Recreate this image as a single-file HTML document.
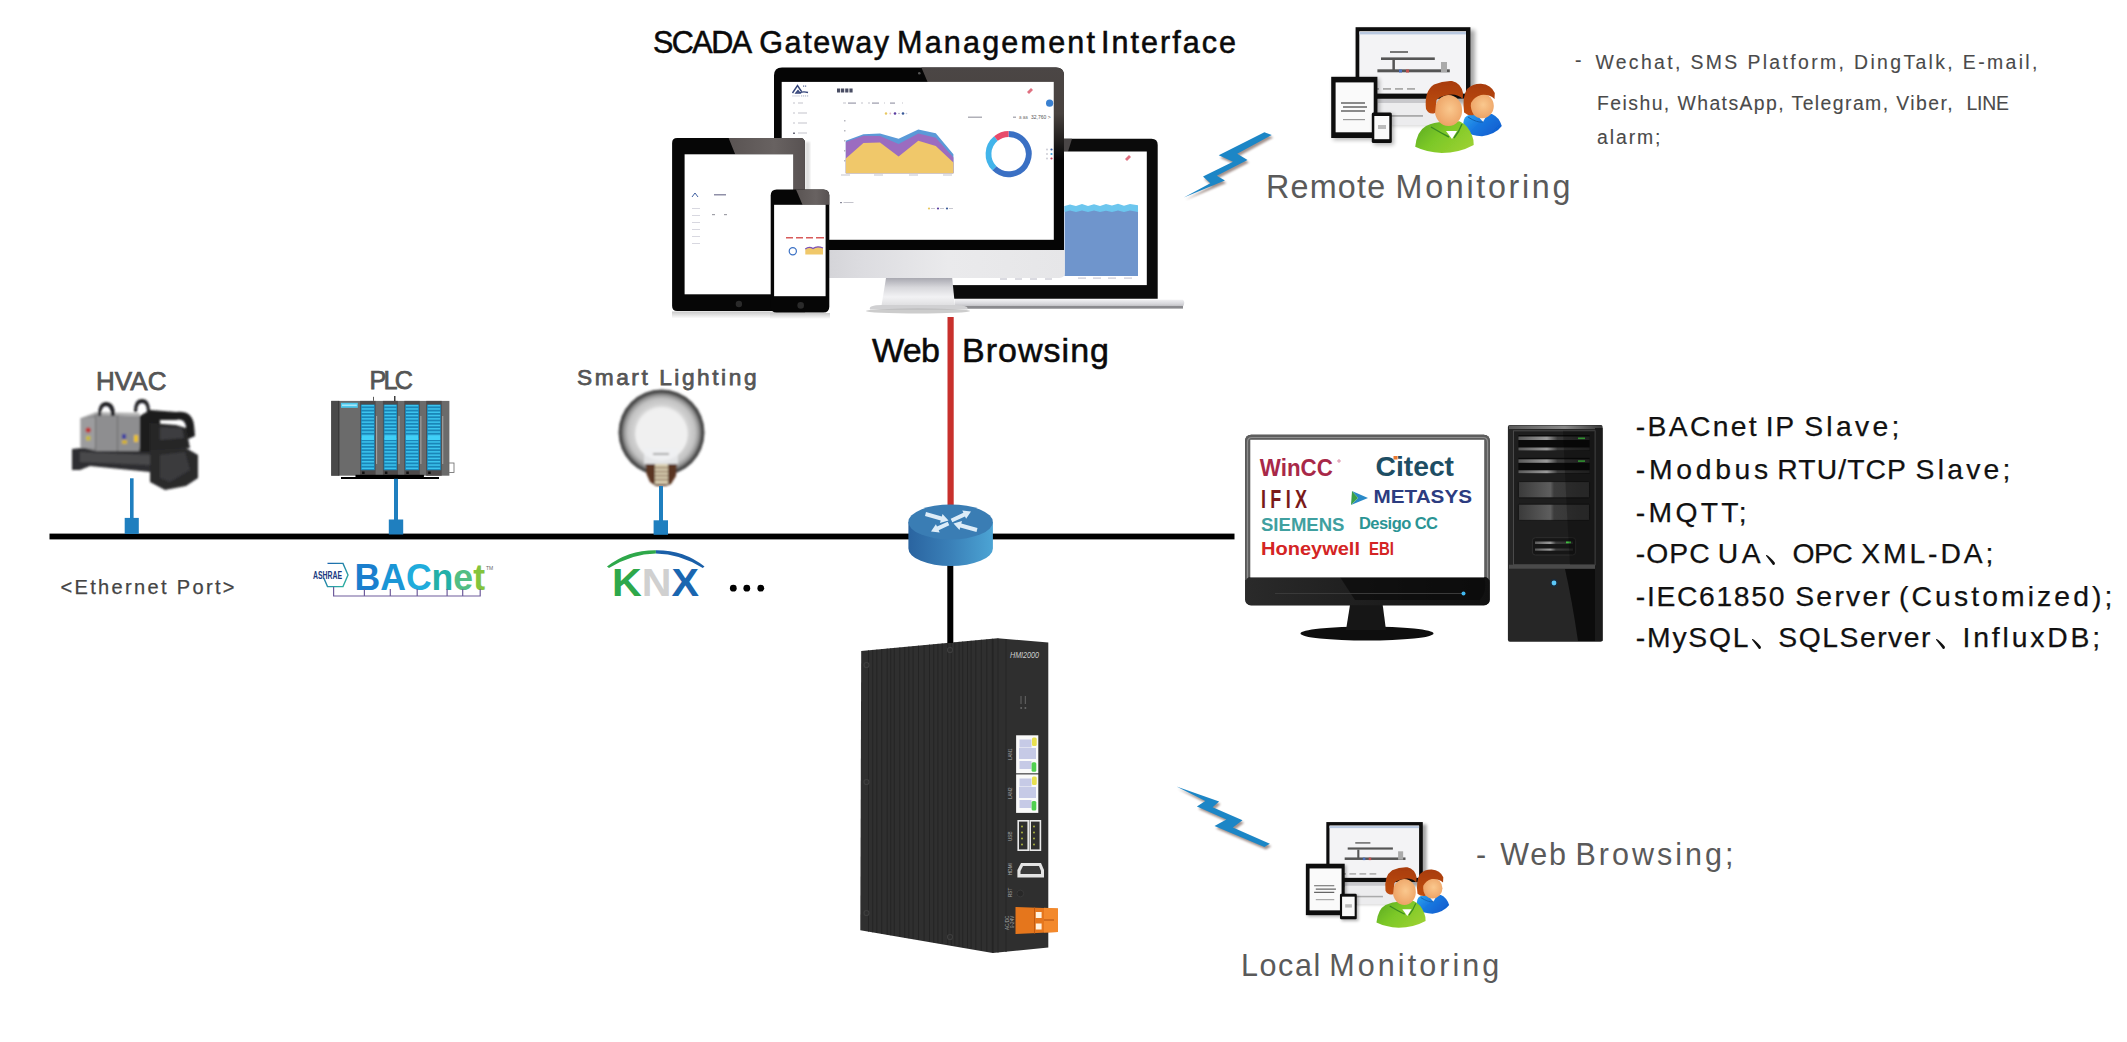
<!DOCTYPE html>
<html><head><meta charset="utf-8">
<style>
html,body{margin:0;padding:0;background:#fff;width:2127px;height:1042px;overflow:hidden}
svg{display:block}
text{font-family:"Liberation Sans",sans-serif}
</style></head><body>
<svg width="2127" height="1042" viewBox="0 0 2127 1042">
<defs>
<linearGradient id="silverH" x1="0" y1="0" x2="0" y2="1"><stop offset="0" stop-color="#f4f4f6"/><stop offset="0.5" stop-color="#d8d8dc"/><stop offset="1" stop-color="#a8a8ac"/></linearGradient>
<linearGradient id="neckG" x1="0" y1="0" x2="0" y2="1"><stop offset="0" stop-color="#a8a8b0"/><stop offset="0.35" stop-color="#d8d8dc"/><stop offset="0.7" stop-color="#f2f2f4"/><stop offset="1" stop-color="#e0e0e2"/></linearGradient>
<linearGradient id="chinG" x1="0" y1="0" x2="1" y2="0"><stop offset="0" stop-color="#c8c8cc"/><stop offset="0.3" stop-color="#dcdce0"/><stop offset="0.6" stop-color="#eaeaec"/><stop offset="1" stop-color="#e6e6e8"/></linearGradient>
<linearGradient id="glossT" x1="0" y1="0" x2="1" y2="0"><stop offset="0" stop-color="#5a5453"/><stop offset="0.6" stop-color="#686261"/><stop offset="1" stop-color="#585252"/></linearGradient>
<linearGradient id="reflG" x1="0" y1="0" x2="0" y2="1"><stop offset="0" stop-color="#c8c8c8"/><stop offset="1" stop-color="#ffffff"/></linearGradient>

<filter id="soft" x="-10%" y="-10%" width="120%" height="120%"><feGaussianBlur stdDeviation="0.8"/></filter>
<radialGradient id="bulbG" cx="0.5" cy="0.5" r="0.5"><stop offset="0" stop-color="#f2f2f2"/><stop offset="0.56" stop-color="#eeeeee"/><stop offset="0.64" stop-color="#d2d2d2"/><stop offset="0.78" stop-color="#c2c2c2"/><stop offset="0.87" stop-color="#969696"/><stop offset="0.94" stop-color="#4a4a4a"/><stop offset="1" stop-color="#404040"/></radialGradient>
<linearGradient id="bacHex" x1="0" y1="0" x2="1" y2="1"><stop offset="0" stop-color="#1a5fb0"/><stop offset="1" stop-color="#30b8a0"/></linearGradient>

<filter id="blur1" x="-20%" y="-20%" width="140%" height="140%"><feGaussianBlur stdDeviation="0.8"/></filter>
<filter id="blur2" x="-20%" y="-20%" width="140%" height="140%"><feGaussianBlur stdDeviation="2"/></filter>
<linearGradient id="chinDark" x1="0" y1="0" x2="1" y2="0"><stop offset="0" stop-color="#2a2a2a"/><stop offset="0.5" stop-color="#1e1e1e"/><stop offset="1" stop-color="#111"/></linearGradient>
<linearGradient id="greenShirt" x1="0" y1="0" x2="1" y2="0.6"><stop offset="0" stop-color="#58a820"/><stop offset="0.5" stop-color="#7cc828"/><stop offset="1" stop-color="#98d030"/></linearGradient>
<linearGradient id="blueShirt" x1="0" y1="0" x2="1" y2="0.6"><stop offset="0" stop-color="#30a8f0"/><stop offset="0.5" stop-color="#1878e0"/><stop offset="1" stop-color="#1060d0"/></linearGradient>
<radialGradient id="faceG" cx="0.55" cy="0.45" r="0.6"><stop offset="0" stop-color="#fac88e"/><stop offset="1" stop-color="#eca062"/></radialGradient>
<linearGradient id="hairG" x1="0" y1="0" x2="0" y2="1"><stop offset="0" stop-color="#a83c0a"/><stop offset="1" stop-color="#c04e12"/></linearGradient>
<linearGradient id="routerSide" x1="0" y1="0" x2="1" y2="0"><stop offset="0" stop-color="#2a64a0"/><stop offset="0.5" stop-color="#3a80b8"/><stop offset="1" stop-color="#4ca4d4"/></linearGradient>
<linearGradient id="towerTop" x1="0" y1="0" x2="1" y2="0"><stop offset="0" stop-color="#5a5a5a"/><stop offset="0.6" stop-color="#888"/><stop offset="1" stop-color="#3a3a3a"/></linearGradient>
<linearGradient id="bayStrip" x1="0" y1="0" x2="1" y2="0"><stop offset="0" stop-color="#5a5a5a"/><stop offset="0.4" stop-color="#9a9a9a"/><stop offset="0.55" stop-color="#3a3a3a"/><stop offset="1" stop-color="#2a2a2a"/></linearGradient>
<linearGradient id="bayGrey" x1="0" y1="0" x2="1" y2="0"><stop offset="0" stop-color="#3a3a3a"/><stop offset="0.45" stop-color="#5e5e5e"/><stop offset="0.5" stop-color="#3c3c3c"/><stop offset="1" stop-color="#333"/></linearGradient>
<linearGradient id="imacGloss" x1="0" y1="0" x2="0" y2="1"><stop offset="0" stop-color="#4b4645"/><stop offset="0.5" stop-color="#48423f"/><stop offset="1" stop-color="#050505"/></linearGradient>
<filter id="blur05" x="-5%" y="-5%" width="110%" height="110%"><feGaussianBlur stdDeviation="0.5"/></filter>
</defs>
<rect width="2127" height="1042" fill="#fff"/>


<!-- ===== SCADA DEVICES ===== -->
<g id="devices">
 <!-- laptop -->
 <path d="M955,298.8 L1183,299.7 Q1186,303 1182,308 L955,308.6 Z" fill="url(#silverH)"/>
 <rect x="955" y="306" width="228" height="2.6" fill="#8a8a8e"/>
 <path d="M945,138.8 L1151.5,138.8 Q1157.7,138.8 1157.7,145 L1157.7,298.8 L945,298.8 Z" fill="#0b0b0b"/>
 <path d="M1060,138.8 L1072,138.8 L1068,151.5 L1060,151.5 Z" fill="#4a4646"/>
 <rect x="950" y="151.5" width="196.8" height="133.6" fill="#fff"/>
 <g fill="#b8b8c4"><rect x="1000" y="278.5" width="7" height="1"/><rect x="1015" y="278.5" width="7" height="1"/><rect x="1030" y="278.5" width="7" height="1"/><rect x="1045" y="278.5" width="7" height="1"/></g>
 <rect x="1064.6" y="206" width="73.4" height="70" fill="#6f95cc"/>
 <path d="M1064.6,206 L1070,204.5 L1076,206 L1082,204 L1088,206 L1094,204.2 L1100,206 L1106,204 L1112,205.5 L1118,203.8 L1124,205.8 L1130,204 L1138,205.2 L1138,212 L1130,210.5 L1124,212 L1118,210.5 L1112,212 L1106,210.8 L1100,212 L1094,210.6 L1088,212 L1082,210.5 L1076,212 L1070,210.5 L1064.6,212 Z" fill="#6cc6ee"/>
 <g fill="#c9c9d6"><rect x="1078" y="277.5" width="8" height="1.2"/><rect x="1093" y="277.5" width="8" height="1.2"/><rect x="1108" y="277.5" width="8" height="1.2"/><rect x="1124" y="277.5" width="8" height="1.2"/></g>
 <path d="M1125,159 l4,-4 l2,2 l-4,4 z" fill="#e07080"/>

 <!-- iMac -->
 <path d="M870,309.5 Q868,305 882,305 L955,305 Q969,305 967.5,309.5 Z" fill="#d0d0d2"/>
 <ellipse cx="918" cy="311" rx="52" ry="2.5" fill="#9a9a9a" opacity="0.5"/>
 <path d="M886,277.9 L952.2,277.9 L954.9,305 L881.6,305 Z" fill="url(#neckG)"/>
 <path d="M774,250 L1064.8,250 L1064.8,272.5 Q1064.8,277.9 1059.4,277.9 L779.4,277.9 Q774,277.9 774,272.5 Z" fill="url(#chinG)"/>
 <path d="M774,75.4 Q774,67.4 782,67.4 L1056,67.4 Q1064,67.4 1064,75.4 L1064,250 L774,250 Z" fill="#050505"/>
 <path d="M921.4,67.4 L1056,67.4 Q1064,67.4 1064,75.4 L1064,160 L1053.8,160 L1053.8,81.9 L927.6,81.9 Z" fill="url(#imacGloss)"/>
 <circle cx="919.3" cy="73.2" r="1.3" fill="#555"/>
 <rect x="781.7" y="81.9" width="272.1" height="157.9" fill="#fff"/>
 <!-- screen contents -->
 <path d="M792.5,93 L797.5,85.5 L801.5,91.5 M799.5,93 Q803,91 808,92.5 M796,93 L798,90.5 L800,93 Z" stroke="#34447a" stroke-width="1.4" fill="none"/>
 <g fill="#5a6a9a"><rect x="803" y="85.5" width="1.2" height="1.2"/><rect x="805" y="85.5" width="1.2" height="1.2"/></g>
 <g fill="#9aa0b8"><rect x="792.5" y="95.5" width="1" height="0.9"/><rect x="794.5" y="95.5" width="1" height="0.9"/><rect x="796.5" y="95.5" width="1" height="0.9"/><rect x="798.5" y="95.5" width="1" height="0.9"/><rect x="801" y="95.5" width="1.2" height="0.9"/><rect x="803" y="95.5" width="1.2" height="0.9"/><rect x="805" y="95.5" width="1.2" height="0.9"/><rect x="807" y="95.5" width="1.2" height="0.9"/></g>
 <g fill="#4a4e64"><rect x="837" y="88.5" width="3.2" height="4"/><rect x="841" y="88.5" width="3.2" height="4"/><rect x="845.2" y="88.5" width="3.2" height="4"/><rect x="849.4" y="88.5" width="3.2" height="4"/></g>
 <g fill="#c4c4cc">
  <rect x="793" y="102.5" width="2" height="1"/><rect x="798" y="102.5" width="5" height="1"/>
  <rect x="793" y="112.5" width="2" height="1"/><rect x="798" y="112.5" width="9" height="1"/>
  <rect x="793" y="122.5" width="2" height="1"/><rect x="798" y="122.5" width="9" height="1"/>
  <rect x="793" y="132.5" width="2" height="1.5" fill="#6a6a7a"/><rect x="798" y="132.5" width="9" height="1"/>
  <rect x="843" y="102.5" width="3" height="1"/><rect x="848" y="102.5" width="8" height="1.2" fill="#9a9aaa"/><rect x="861" y="102.5" width="2" height="1"/><rect x="868" y="102.5" width="2" height="1"/><rect x="872" y="102.5" width="7" height="1.2" fill="#9a9aaa"/><rect x="884" y="102.5" width="1" height="1"/><rect x="890" y="102.5" width="5" height="1.2" fill="#9a9aaa"/><rect x="902" y="102.5" width="1" height="1"/>
  <rect x="841" y="174.5" width="9" height="1"/><rect x="874" y="174.5" width="9" height="1"/><rect x="909" y="174.5" width="9" height="1"/><rect x="943" y="174.5" width="9" height="1"/>
  <rect x="840" y="202" width="2" height="1.2" fill="#8a8a9a"/><rect x="843.5" y="202" width="10" height="1"/>
 </g>
 <g><circle cx="886" cy="113.5" r="1.2" fill="#e8c860"/><circle cx="890.3" cy="113.5" r="0.9" fill="#e0b8c8"/><circle cx="895" cy="113.5" r="1.3" fill="#5a3ca0"/><circle cx="899" cy="113.5" r="0.7" fill="#9a9ab0"/><circle cx="903" cy="113.5" r="1.3" fill="#3a5a98"/><circle cx="906.5" cy="113.5" r="0.8" fill="#c0c8e0"/>
 <circle cx="929" cy="208.5" r="1.1" fill="#e8c860"/><rect x="931" y="208" width="4" height="1" fill="#c8c8d0"/><circle cx="938" cy="208.5" r="1.1" fill="#5a3ca0"/><rect x="940" y="208" width="4" height="1" fill="#c8c8d0"/><circle cx="947" cy="208.5" r="1.1" fill="#3a5a98"/><rect x="949" y="208" width="4" height="1" fill="#c8c8d0"/></g>
 <path d="M845.8,173.3 L845.8,140.8 L863.4,134.2 L880,133.6 L898.6,138.8 L918.3,129.5 L935.8,133.2 L953.4,154.3 L953.4,173.3 Z" fill="#5b9ad8"/>
 <path d="M845.8,173.3 L845.8,141.9 L863.4,135.7 L880,136.1 L898.6,144 L918.3,133.6 L935.8,137.7 L953.4,157.4 L953.4,173.3 Z" fill="#9b6cc0"/>
 <path d="M845.8,173.3 L845.8,158.4 L863.4,142.9 L880,142.5 L898.6,156.4 L918.3,140.8 L935.8,146 L953.4,162.6 L953.4,173.3 Z" fill="#f0c86a"/>
 <path d="M1008.60,134.00 A20.1,20.1 0 1 1 994.39,168.31" fill="none" stroke="#3a70c4" stroke-width="5.8"/><path d="M994.39,168.31 A20.1,20.1 0 0 1 995.95,138.48" fill="none" stroke="#42b4ea" stroke-width="5.8"/><path d="M995.95,138.48 A20.1,20.1 0 0 1 1008.60,134.00" fill="none" stroke="#e84a6a" stroke-width="5.8"/>
 <g fill="#b0b0b8"><rect x="968" y="116.5" width="14" height="1.5"/><rect x="1013" y="116.5" width="3" height="1.5"/></g>
 <text x="1019" y="118.6" font-size="4.5" fill="#777">a aa </text><text x="1031" y="118.8" font-size="5" fill="#555" font-family="Liberation Serif">32,760 &gt;</text>
 <g><circle cx="1047" cy="149.5" r="0.9" fill="#c8c8d0"/><circle cx="1051.5" cy="149.5" r="1.1" fill="#3a60a8"/><circle cx="1047" cy="154" r="0.9" fill="#c8c8d0"/><circle cx="1051.5" cy="154" r="1.1" fill="#42a0d8"/><circle cx="1047" cy="158.5" r="0.9" fill="#c8c8d0"/><circle cx="1051.5" cy="158.5" r="1.1" fill="#d04060"/></g>
 <g fill="#b8b8c0"><rect x="844" y="120" width="1.5" height="1.5"/><rect x="844" y="130" width="1.5" height="1.5"/><rect x="844" y="140" width="1.5" height="1.5"/><rect x="844" y="150" width="1.5" height="1.5"/><rect x="844" y="160" width="1.5" height="1.5"/></g>
<circle cx="1049.6" cy="103.2" r="3.6" fill="#3a80d0"/>
 <path d="M1027,92 l4,-4 l2,2 l-4,4 z" fill="#e07080"/>

 <!-- tablet -->
 <path d="M672.1,142.9 Q672.1,137.9 677.1,137.9 L800,137.9 Q805,137.9 805,142.9 L805,306.1 Q805,311.1 800,311.1 L677.1,311.1 Q672.1,311.1 672.1,306.1 Z" fill="#060606"/>
 <path d="M728.6,137.9 L800,137.9 Q805,137.9 805,142.9 L805,306 L793.2,306 L793.2,154.3 L735.2,154.3 Z" fill="url(#glossT)"/>
 <rect x="805" y="142" width="5" height="165" fill="#000" opacity="0.12" filter="url(#blur1)"/>
 <rect x="684.6" y="154.3" width="108.6" height="140" fill="#fff"/>
 <circle cx="738.9" cy="304" r="3.2" fill="#2a2a2a"/>
 <g fill="#d8d8e0"><rect x="714" y="194" width="12" height="1.5" fill="#9090a8"/><rect x="692" y="208" width="8" height="1"/><rect x="692" y="215" width="8" height="1"/><rect x="692" y="222" width="8" height="1"/><rect x="692" y="229" width="8" height="1"/><rect x="692" y="236" width="8" height="1"/><rect x="692" y="243" width="8" height="1"/><rect x="712" y="214" width="3" height="1.2" fill="#a0a0a8"/><rect x="724" y="214" width="3" height="1.2" fill="#a0a0a8"/></g>
 <path d="M692,197 l3,-4 l3,4" stroke="#4060a0" stroke-width="1" fill="none"/>
 <rect x="672" y="311.5" width="133" height="7" fill="url(#reflG)"/>

 <!-- phone -->
 <path d="M770.7,195.5 Q770.7,189.5 776.7,189.5 L823.3,189.5 Q829.3,189.5 829.3,195.5 L829.3,306.4 Q829.3,312.4 823.3,312.4 L776.7,312.4 Q770.7,312.4 770.7,306.4 Z" fill="#060606"/>
 <path d="M796,189.5 L823.3,189.5 Q829.3,189.5 829.3,195.5 L829.3,204.8 L802.5,204.8 Z" fill="url(#glossT)"/>
 <rect x="774.1" y="204.8" width="51.5" height="91.4" fill="#fff"/>
 <circle cx="800.7" cy="305.4" r="3.3" fill="#2a2a2a"/>
 <g fill="#d85a5a"><rect x="786" y="237" width="7" height="1.5"/><rect x="796" y="237" width="7" height="1.5"/><rect x="806" y="237" width="7" height="1.5"/><rect x="816" y="237" width="8" height="1.5"/></g>
 <circle cx="792.8" cy="251.3" r="3.6" fill="none" stroke="#3a70c4" stroke-width="1.2"/>
 <path d="M805.3,254.5 L805.3,249 Q809,246 813,248.5 Q817,245.5 823,248 L823,254.5 Z" fill="#f0c86a"/>
 <path d="M805.3,249 Q809,246 813,248.5 Q817,245.5 823,248" stroke="#7a50b8" stroke-width="1.3" fill="none"/>
 <rect x="770" y="313" width="60" height="6" fill="url(#reflG)"/>
</g>


<!-- ===== HMI DEVICE ===== -->
<defs><clipPath id="hmiSide"><path d="M861.2,651.1 L997.5,638.2 L997.5,953.1 L860.3,930.3 Z"/></clipPath></defs>
<g id="hmi">
 <path d="M861.2,651.1 L997.5,638.2 L1048.3,642.5 L1048.3,947.4 L992.7,953.1 L860.3,930.3 Z" fill="#2f2f2f"/>
 <g clip-path="url(#hmiSide)" opacity="0.9"><rect x="868.0" y="630" width="0.9" height="330" fill="#232323"/><rect x="872.2" y="630" width="0.9" height="330" fill="#232323"/><rect x="876.4" y="630" width="0.9" height="330" fill="#232323"/><rect x="881.2" y="630" width="0.9" height="330" fill="#232323"/><rect x="886.7" y="630" width="0.9" height="330" fill="#232323"/><rect x="890.3" y="630" width="0.9" height="330" fill="#232323"/><rect x="893.9" y="630" width="0.9" height="330" fill="#232323"/><rect x="899.4" y="630" width="0.9" height="330" fill="#232323"/><rect x="904.2" y="630" width="0.9" height="330" fill="#232323"/><rect x="908.4" y="630" width="0.9" height="330" fill="#232323"/><rect x="912.6" y="630" width="0.9" height="330" fill="#232323"/><rect x="918.1" y="630" width="0.9" height="330" fill="#232323"/><rect x="923.6" y="630" width="0.9" height="330" fill="#232323"/><rect x="929.1" y="630" width="0.9" height="330" fill="#232323"/><rect x="933.3" y="630" width="0.9" height="330" fill="#232323"/><rect x="937.5" y="630" width="0.9" height="330" fill="#232323"/><rect x="941.7" y="630" width="0.9" height="330" fill="#232323"/><rect x="947.2" y="630" width="0.9" height="330" fill="#232323"/><rect x="950.8" y="630" width="0.9" height="330" fill="#232323"/><rect x="954.4" y="630" width="0.9" height="330" fill="#232323"/><rect x="958.6" y="630" width="0.9" height="330" fill="#232323"/><rect x="962.2" y="630" width="0.9" height="330" fill="#232323"/><rect x="967.0" y="630" width="0.9" height="330" fill="#232323"/><rect x="970.6" y="630" width="0.9" height="330" fill="#232323"/><rect x="975.4" y="630" width="0.9" height="330" fill="#232323"/><rect x="980.9" y="630" width="0.9" height="330" fill="#232323"/><rect x="986.4" y="630" width="0.9" height="330" fill="#232323"/><rect x="991.9" y="630" width="0.9" height="330" fill="#232323"/></g>
 <rect x="992.5" y="639" width="1" height="314" fill="#222"/>
 <rect x="997.5" y="638.5" width="1" height="314" fill="#262626"/>
 <rect x="1005.5" y="639" width="1" height="313" fill="#262626"/>
 <g fill="none" stroke="#3e3e3e" stroke-width="1.2"><circle cx="866.5" cy="665" r="2.5"/><circle cx="866.5" cy="782" r="2.5"/><circle cx="866.5" cy="913" r="2.5"/><circle cx="950" cy="650" r="2.5"/><circle cx="950" cy="937" r="2.5"/></g>
 <text x="1010" y="658" font-size="9.5" font-style="italic" fill="#cfcfcf" textLength="29" lengthAdjust="spacingAndGlyphs">HMI2000</text>
 <g fill="#666"><rect x="1020.5" y="696" width="1" height="8"/><rect x="1024.8" y="696" width="1" height="8"/><circle cx="1021.2" cy="708" r="1"/><circle cx="1025.4" cy="708" r="1"/></g>
 <!-- LAN -->
 <rect x="1016.1" y="735.3" width="22.2" height="38" fill="#fafafa"/>
 <rect x="1016.1" y="774.4" width="22.2" height="38.5" fill="#fafafa"/>
 <g fill="#c6cae6">
  <rect x="1019.5" y="739.5" width="12" height="8"/><rect x="1019" y="748" width="17" height="11"/><rect x="1019.5" y="761" width="12" height="8"/>
  <rect x="1019.5" y="778.5" width="12" height="8"/><rect x="1019" y="787" width="17" height="11"/><rect x="1019.5" y="800" width="12" height="8"/>
 </g>
 <g fill="#e8e050"><rect x="1032" y="737.4" width="4.7" height="8.5" rx="1.5"/><rect x="1032" y="776.5" width="4.7" height="8.5" rx="1.5"/></g>
 <g fill="#50d050"><rect x="1031.6" y="762.2" width="4.7" height="9.5" rx="1.5"/><rect x="1031.6" y="801" width="4.7" height="9.5" rx="1.5"/></g>
 <g fill="#a8a8a8" font-size="4.6">
 <text transform="translate(1012,760) rotate(-90)">LAN1</text>
 <text transform="translate(1012,799) rotate(-90)">LAN2</text>
 <text transform="translate(1012,841) rotate(-90)">USB</text>
 <text transform="translate(1012,875) rotate(-90)">HDMI</text>
 <text transform="translate(1012,897) rotate(-90)">RST</text>
 <text transform="translate(1009,930) rotate(-90)">AC/DC</text>
 <text transform="translate(1013.5,928) rotate(-90)">9-24V</text>
</g>
 <!-- USB -->
 <g fill="none" stroke="#e8e8e8" stroke-width="1.6"><rect x="1018.2" y="820.8" width="10" height="29.4"/><rect x="1030.2" y="820.8" width="10.2" height="29.4"/></g>
 <g fill="#b8c040"><circle cx="1022" cy="826.5" r="0.9"/><circle cx="1022" cy="832.5" r="0.9"/><circle cx="1022" cy="838.5" r="0.9"/><circle cx="1022" cy="844.5" r="0.9"/><circle cx="1034" cy="826.5" r="0.9"/><circle cx="1034" cy="832.5" r="0.9"/><circle cx="1034" cy="838.5" r="0.9"/><circle cx="1034" cy="844.5" r="0.9"/></g>
 <!-- HDMI -->
 <path d="M1021,863 L1041,863 L1044,870 L1044,877.6 L1017.4,877.6 L1017.4,870 Z" fill="#e4e4e4"/>
 <path d="M1023,866 L1039,866 L1041,871 L1041,874 L1020.5,874 L1020.5,871 Z" fill="#3a3a3a"/>
 <circle cx="1020.3" cy="893.5" r="3.4" fill="#282828" stroke="#3c3c3c" stroke-width="0.8"/>
 <!-- terminal -->
 <path d="M1015.5,907 L1058,908.6 L1058,932 L1015.5,934 Z" fill="#e5761c"/>
 <path d="M1044,907.8 L1058,908.6 L1058,932 L1044,932.6 Z" fill="#f3892c"/>
 <rect x="1035.8" y="912" width="5.8" height="6" fill="#fff2e0"/>
 <rect x="1035.8" y="923.5" width="5.8" height="6" fill="#fff2e0"/>
 <rect x="1034" y="907.5" width="1" height="26" fill="#c05a10"/>
 <rect x="1044" y="919.5" width="10" height="1" fill="#b05010"/>
</g>

<g id="plc"><rect x="331.2" y="400.9" width="118.2" height="74.8" fill="#6b6b6b"/><rect x="331.2" y="400.9" width="7.5" height="74.8" fill="#4a4a4a"/><rect x="338.5" y="400.9" width="0.8" height="74.8" fill="#222"/><rect x="341" y="402.8" width="16.8" height="5" fill="#4cc8ec"/><rect x="342" y="404.5" width="14.8" height="1.5" fill="#a8e8fa"/><rect x="360.1" y="400.9" width="15.5" height="74.8" fill="#4e4a4a"/><rect x="360.90000000000003" y="404.6" width="13.9" height="65.6" fill="#1a86b8"/><rect x="361.7" y="404.90" width="12.3" height="1.5" fill="#3cc4ee"/><rect x="361.7" y="408.20" width="12.3" height="1.5" fill="#3cc4ee"/><rect x="361.7" y="411.50" width="12.3" height="1.5" fill="#3cc4ee"/><rect x="361.7" y="414.80" width="12.3" height="1.5" fill="#3cc4ee"/><rect x="361.7" y="418.10" width="12.3" height="1.5" fill="#3cc4ee"/><rect x="361.7" y="421.40" width="12.3" height="1.5" fill="#3cc4ee"/><rect x="361.7" y="424.70" width="12.3" height="1.5" fill="#3cc4ee"/><rect x="361.7" y="428.00" width="12.3" height="1.5" fill="#3cc4ee"/><rect x="361.7" y="431.30" width="12.3" height="1.5" fill="#3cc4ee"/><rect x="361.7" y="434.60" width="12.3" height="1.5" fill="#3cc4ee"/><rect x="361.7" y="437.90" width="12.3" height="1.5" fill="#3cc4ee"/><rect x="361.7" y="441.20" width="12.3" height="1.5" fill="#3cc4ee"/><rect x="361.7" y="444.50" width="12.3" height="1.5" fill="#3cc4ee"/><rect x="361.7" y="447.80" width="12.3" height="1.5" fill="#3cc4ee"/><rect x="361.7" y="451.10" width="12.3" height="1.5" fill="#3cc4ee"/><rect x="361.7" y="454.40" width="12.3" height="1.5" fill="#3cc4ee"/><rect x="361.7" y="457.70" width="12.3" height="1.5" fill="#3cc4ee"/><rect x="361.7" y="461.00" width="12.3" height="1.5" fill="#3cc4ee"/><rect x="361.7" y="464.30" width="12.3" height="1.5" fill="#3cc4ee"/><rect x="361.7" y="467.60" width="12.3" height="1.5" fill="#3cc4ee"/><rect x="361.7" y="436" width="12.3" height="4" fill="#40d0f8"/><rect x="362.1" y="471.5" width="2.5" height="2.5" fill="#111"/><rect x="382.9" y="400.9" width="15.0" height="74.8" fill="#4e4a4a"/><rect x="383.7" y="404.6" width="13.4" height="65.6" fill="#1a86b8"/><rect x="384.5" y="404.90" width="11.8" height="1.5" fill="#3cc4ee"/><rect x="384.5" y="408.20" width="11.8" height="1.5" fill="#3cc4ee"/><rect x="384.5" y="411.50" width="11.8" height="1.5" fill="#3cc4ee"/><rect x="384.5" y="414.80" width="11.8" height="1.5" fill="#3cc4ee"/><rect x="384.5" y="418.10" width="11.8" height="1.5" fill="#3cc4ee"/><rect x="384.5" y="421.40" width="11.8" height="1.5" fill="#3cc4ee"/><rect x="384.5" y="424.70" width="11.8" height="1.5" fill="#3cc4ee"/><rect x="384.5" y="428.00" width="11.8" height="1.5" fill="#3cc4ee"/><rect x="384.5" y="431.30" width="11.8" height="1.5" fill="#3cc4ee"/><rect x="384.5" y="434.60" width="11.8" height="1.5" fill="#3cc4ee"/><rect x="384.5" y="437.90" width="11.8" height="1.5" fill="#3cc4ee"/><rect x="384.5" y="441.20" width="11.8" height="1.5" fill="#3cc4ee"/><rect x="384.5" y="444.50" width="11.8" height="1.5" fill="#3cc4ee"/><rect x="384.5" y="447.80" width="11.8" height="1.5" fill="#3cc4ee"/><rect x="384.5" y="451.10" width="11.8" height="1.5" fill="#3cc4ee"/><rect x="384.5" y="454.40" width="11.8" height="1.5" fill="#3cc4ee"/><rect x="384.5" y="457.70" width="11.8" height="1.5" fill="#3cc4ee"/><rect x="384.5" y="461.00" width="11.8" height="1.5" fill="#3cc4ee"/><rect x="384.5" y="464.30" width="11.8" height="1.5" fill="#3cc4ee"/><rect x="384.5" y="467.60" width="11.8" height="1.5" fill="#3cc4ee"/><rect x="384.5" y="436" width="11.8" height="4" fill="#40d0f8"/><rect x="384.9" y="471.5" width="2.5" height="2.5" fill="#111"/><rect x="404.3" y="400.9" width="15.5" height="74.8" fill="#4e4a4a"/><rect x="405.1" y="404.6" width="13.9" height="65.6" fill="#1a86b8"/><rect x="405.9" y="404.90" width="12.3" height="1.5" fill="#3cc4ee"/><rect x="405.9" y="408.20" width="12.3" height="1.5" fill="#3cc4ee"/><rect x="405.9" y="411.50" width="12.3" height="1.5" fill="#3cc4ee"/><rect x="405.9" y="414.80" width="12.3" height="1.5" fill="#3cc4ee"/><rect x="405.9" y="418.10" width="12.3" height="1.5" fill="#3cc4ee"/><rect x="405.9" y="421.40" width="12.3" height="1.5" fill="#3cc4ee"/><rect x="405.9" y="424.70" width="12.3" height="1.5" fill="#3cc4ee"/><rect x="405.9" y="428.00" width="12.3" height="1.5" fill="#3cc4ee"/><rect x="405.9" y="431.30" width="12.3" height="1.5" fill="#3cc4ee"/><rect x="405.9" y="434.60" width="12.3" height="1.5" fill="#3cc4ee"/><rect x="405.9" y="437.90" width="12.3" height="1.5" fill="#3cc4ee"/><rect x="405.9" y="441.20" width="12.3" height="1.5" fill="#3cc4ee"/><rect x="405.9" y="444.50" width="12.3" height="1.5" fill="#3cc4ee"/><rect x="405.9" y="447.80" width="12.3" height="1.5" fill="#3cc4ee"/><rect x="405.9" y="451.10" width="12.3" height="1.5" fill="#3cc4ee"/><rect x="405.9" y="454.40" width="12.3" height="1.5" fill="#3cc4ee"/><rect x="405.9" y="457.70" width="12.3" height="1.5" fill="#3cc4ee"/><rect x="405.9" y="461.00" width="12.3" height="1.5" fill="#3cc4ee"/><rect x="405.9" y="464.30" width="12.3" height="1.5" fill="#3cc4ee"/><rect x="405.9" y="467.60" width="12.3" height="1.5" fill="#3cc4ee"/><rect x="405.9" y="436" width="12.3" height="4" fill="#40d0f8"/><rect x="406.3" y="471.5" width="2.5" height="2.5" fill="#111"/><rect x="426.2" y="400.9" width="15.5" height="74.8" fill="#4e4a4a"/><rect x="427.0" y="404.6" width="13.9" height="65.6" fill="#1a86b8"/><rect x="427.8" y="404.90" width="12.3" height="1.5" fill="#3cc4ee"/><rect x="427.8" y="408.20" width="12.3" height="1.5" fill="#3cc4ee"/><rect x="427.8" y="411.50" width="12.3" height="1.5" fill="#3cc4ee"/><rect x="427.8" y="414.80" width="12.3" height="1.5" fill="#3cc4ee"/><rect x="427.8" y="418.10" width="12.3" height="1.5" fill="#3cc4ee"/><rect x="427.8" y="421.40" width="12.3" height="1.5" fill="#3cc4ee"/><rect x="427.8" y="424.70" width="12.3" height="1.5" fill="#3cc4ee"/><rect x="427.8" y="428.00" width="12.3" height="1.5" fill="#3cc4ee"/><rect x="427.8" y="431.30" width="12.3" height="1.5" fill="#3cc4ee"/><rect x="427.8" y="434.60" width="12.3" height="1.5" fill="#3cc4ee"/><rect x="427.8" y="437.90" width="12.3" height="1.5" fill="#3cc4ee"/><rect x="427.8" y="441.20" width="12.3" height="1.5" fill="#3cc4ee"/><rect x="427.8" y="444.50" width="12.3" height="1.5" fill="#3cc4ee"/><rect x="427.8" y="447.80" width="12.3" height="1.5" fill="#3cc4ee"/><rect x="427.8" y="451.10" width="12.3" height="1.5" fill="#3cc4ee"/><rect x="427.8" y="454.40" width="12.3" height="1.5" fill="#3cc4ee"/><rect x="427.8" y="457.70" width="12.3" height="1.5" fill="#3cc4ee"/><rect x="427.8" y="461.00" width="12.3" height="1.5" fill="#3cc4ee"/><rect x="427.8" y="464.30" width="12.3" height="1.5" fill="#3cc4ee"/><rect x="427.8" y="467.60" width="12.3" height="1.5" fill="#3cc4ee"/><rect x="427.8" y="436" width="12.3" height="4" fill="#40d0f8"/><rect x="428.2" y="471.5" width="2.5" height="2.5" fill="#111"/><rect x="376.3" y="416" width="0.8" height="48" fill="#b8b8b8"/><rect x="398.6" y="416" width="0.8" height="48" fill="#b8b8b8"/><rect x="420.5" y="416" width="0.8" height="48" fill="#b8b8b8"/><rect x="442.4" y="416" width="0.8" height="48" fill="#b8b8b8"/><rect x="449" y="463" width="5" height="9.5" fill="#fff" stroke="#666" stroke-width="0.8"/><rect x="355.5" y="474.8" width="68.4" height="2.8" fill="#000"/><rect x="341" y="477" width="98" height="2" fill="#000"/><rect x="373" y="396.8" width="0.8" height="4" fill="#333"/><rect x="394.2" y="396" width="1.2" height="5" fill="#111"/></g>
<g id="hvac" filter="url(#soft)">
 <path d="M72,449 L90,447 L150,449 L156,455 L156,468 L150,472 L90,466 L80,470 L72,470 Z" fill="#2e2e30"/>
 <path d="M80,452 L150,455 L152,465 L80,462 Z" fill="#4a4a4c"/>
 <path d="M80.6,418 L96,414 L139.6,416 L139.6,451 L96,451 L80.6,447 Z" fill="#8e8e90"/>
 <rect x="80.6" y="418" width="15" height="30" fill="#9c9c9e"/>
 <rect x="95" y="414" width="1" height="37" fill="#6a6a6a"/><rect x="117" y="415" width="1" height="36" fill="#6a6a6a"/>
 <path d="M80.6,418 L96,412 L139.6,413 L139.6,416 L96,414 Z" fill="#b0b0b0"/>
 <path d="M98,416 Q98,402 106,402 Q115,402 115,416 L111,416 Q111,406 106,406 Q101,406 101,416 Z" fill="#1e1e20"/>
 <path d="M134,412 Q134,399 142,399 Q150,399 150,412 L147,412 Q147,403 142,403 Q137,403 137,412 Z" fill="#1e1e20"/>
 <path d="M139.6,416 L150,410 L176,412 Q192,410 194,425 L195,436 L186,440 L186,426 Q184,418 176,420 L160,420 L160,452 L139.6,452 Z" fill="#1a1a1c"/>
 <path d="M150,423 L176,425 L186,428 L190,448 L150,452 Z" fill="#262628"/><path d="M160,427 L182,428 L184,438 L160,440 Z" fill="#3c3c40"/>
 <path d="M150,450 L186,448 L198,455 L198,478 L186,486 L165,490 L150,482 Z" fill="#2a2a2c"/>
 <path d="M160,455 L185,452 L190,470 L170,482 L160,478 Z" fill="#3a3a3e"/>
 <circle cx="88.2" cy="430" r="2.6" fill="#c03030"/>
 <rect x="86" y="436" width="4.5" height="4.5" fill="#c8b840"/>
 <rect x="134" y="435" width="4" height="7" fill="#e8c020"/>
 <rect x="122" y="434" width="4" height="5" fill="#4040a0"/><rect x="122" y="440" width="5" height="4" fill="#d0b030"/>
</g>

<g id="bulb" filter="url(#soft)">
 <circle cx="661.5" cy="432.5" r="43" fill="url(#bulbG)"/>
 <circle cx="661.5" cy="434.5" r="26" fill="#f0f0f0"/>
 <rect x="644" y="448" width="34" height="16" fill="#eef0f2" opacity="0.7"/>
 <rect x="653" y="453" width="16" height="2" fill="#777" opacity="0.6"/>
 <path d="M645.7,464 L676.8,464 L676,476 L671,484 L666,486 L656,486 L650,482 L646.5,474 Z" fill="#5a3520"/>
 <rect x="655" y="464" width="13" height="20" fill="#d8cdb0"/>
 <g fill="#7a5a40"><rect x="654" y="467" width="15" height="1.2"/><rect x="654" y="471" width="15" height="1.2"/><rect x="654" y="475" width="15" height="1.2"/><rect x="654" y="479" width="15" height="1.2"/></g>
</g>

<g id="bacnet">
 <path d="M327.5,563.4 L343,563.4 L348,575 L343,586.6 L327.5,586.6 L323.8,578" fill="none" stroke="url(#bacHex)" stroke-width="1.4"/>
 <text x="313" y="579" font-size="10.5" font-weight="bold" fill="#1a3a80" textLength="29" lengthAdjust="spacingAndGlyphs">ASHRAE</text>
 <text x="354.5" y="589.8" font-size="37" font-weight="bold" textLength="130.5" lengthAdjust="spacingAndGlyphs"><tspan fill="#1a7fce">B</tspan><tspan fill="#1a96d6">A</tspan><tspan fill="#20acdc">C</tspan><tspan fill="#22b0a8">n</tspan><tspan fill="#52be84">e</tspan><tspan fill="#84c43c">t</tspan></text>
 <text x="486" y="569.5" font-size="5" fill="#666">TM</text>
 <g stroke="#6e5c9c" stroke-width="1.2" fill="none"><path d="M333.6,587 L333.6,596 L480.2,596 L480.2,589"/><path d="M364.4,589 V596 M390.3,589 V596 M417.2,589 V596 M447.1,589 V596 M462.7,589 V596"/></g>
</g>
<g id="knx">
 <path d="M607,566.5 Q628,550 655.9,550.2 L655.9,553.4 Q632,553.6 609,568 Z" fill="#2ea84a"/>
 <path d="M655.9,550.2 Q684,550 704.5,566.5 L702.8,568 Q680,553.6 655.9,553.4 Z" fill="#1a5fa8"/>
 <text x="612" y="595.9" font-size="38.5" font-weight="bold" textLength="87" lengthAdjust="spacingAndGlyphs"><tspan fill="#2ea84a">K</tspan><tspan fill="#d0d0d0">N</tspan><tspan fill="#1a66b0">X</tspan></text>
</g>
<g fill="#000"><circle cx="733.3" cy="588.2" r="3.4"/><circle cx="746.8" cy="588.2" r="3.4"/><circle cx="760.8" cy="588.2" r="3.4"/></g>


<g id="pcmon">
 <ellipse cx="1367" cy="633.5" rx="66.5" ry="7" fill="#0e0e0e"/>
 <path d="M1350,605 L1382.7,605 L1386,630 L1346,630 Z" fill="#161616"/>
 <rect x="1245.1" y="434.8" width="244.7" height="170.8" rx="6" fill="#1a1a1a"/>
 <path d="M1245.1,580 L1245.1,440.8 Q1245.1,434.8 1251.1,434.8 L1483.8,434.8 Q1489.8,434.8 1489.8,440.8 L1489.8,580 Z" fill="#5e5e5e"/>
 <path d="M1247.5,580 L1247.5,442 Q1247.5,437.5 1252,437.5 L1483,437.5 Q1487.5,437.5 1487.5,442 L1487.5,580 Z" fill="none" stroke="#8e8e8e" stroke-width="1.2"/>
 <rect x="1245.6" y="577" width="244" height="28" rx="5" fill="url(#chinDark)"/>
 <path d="M1340,577 L1484,577 Q1488,590 1480,600 L1355,600 Z" fill="#0a0a0a" opacity="0.7"/>
 <rect x="1275" y="593" width="190" height="1" fill="#3a3a3a"/>
 <circle cx="1463.5" cy="593.5" r="2" fill="#40b8f0"/>
 <rect x="1250.3" y="439.8" width="233.9" height="137.6" fill="#fff"/>
 
 <text x="1259.8" y="476" font-size="23" font-weight="bold" fill="#a82848" textLength="73" lengthAdjust="spacingAndGlyphs">WinCC</text>
 <circle cx="1339" cy="461" r="1.2" fill="none" stroke="#c0406a" stroke-width="0.6"/>
 <text x="1375.5" y="476" font-size="27" font-weight="bold" fill="#1e4e64" textLength="78.5" lengthAdjust="spacingAndGlyphs">Citect</text>
 <rect x="1393.5" y="456" width="4" height="3.5" fill="#e87830"/>
 <text transform="translate(1261,507.5) scale(0.72,1)" x="0" y="0" font-size="25" fill="#7a1a1a" textLength="64" lengthAdjust="spacing" font-weight="bold">IFIX</text>
 <path d="M1352,491 L1368,498 L1351,505 L1358,498 Z" fill="#2a8ac8"/>
 <path d="M1352,491 L1358,498 L1351,505 Z" fill="#3aa048"/>
 <text x="1373.5" y="503.3" font-size="17.5" font-weight="bold" fill="#2c3c80" textLength="98.5" lengthAdjust="spacingAndGlyphs">METASYS</text>
 <text x="1261" y="531" font-size="19" font-weight="bold" fill="#40a0a0" textLength="83.5" lengthAdjust="spacingAndGlyphs">SIEMENS</text>
 <text x="1359" y="529" font-size="16.5" font-weight="bold" fill="#2a9494" textLength="79" lengthAdjust="spacing" font-family="Liberation Serif">Desigo CC</text>
 <text x="1261" y="554.5" font-size="18.5" font-weight="bold" fill="#d42424" textLength="99" lengthAdjust="spacingAndGlyphs">Honeywell</text>
 <text x="1369" y="554.8" font-size="17.5" font-weight="bold" fill="#d42424" textLength="25" lengthAdjust="spacingAndGlyphs" font-family="Liberation Serif">EBI</text>
</g>
<g id="tower">
 <rect x="1507.9" y="425.1" width="94.7" height="216.6" rx="2" fill="#262626"/>
 <rect x="1509" y="425.5" width="93" height="3.5" fill="url(#towerTop)"/>
 <rect x="1595" y="428" width="7.6" height="213" fill="#1a1a1a"/>
 <rect x="1513.5" y="430.8" width="81.5" height="134" fill="#1e1e1e" stroke="#4a4a4a" stroke-width="1"/>
 <rect x="1509" y="564.7" width="86" height="4" fill="#4a4a4a"/>
 <path d="M1565,569 L1595,569 L1595,641 L1578,641 Q1572,600 1565,569 Z" fill="#0c0c0c"/>
 <g>
  <rect x="1518.4" y="435" width="71.2" height="16" fill="#0a0a0a"/>
  <rect x="1518.4" y="436.5" width="71.2" height="3.5" fill="url(#bayStrip)"/><rect x="1518.4" y="447.5" width="71.2" height="3" fill="url(#bayStrip)"/>
  <rect x="1518.4" y="457.8" width="71.2" height="16" fill="#0a0a0a"/>
  <rect x="1518.4" y="459.3" width="71.2" height="3.5" fill="url(#bayStrip)"/><rect x="1518.4" y="470.3" width="71.2" height="3" fill="url(#bayStrip)"/>
  <rect x="1578" y="437.5" width="7" height="1.6" fill="#40c040"/><rect x="1578" y="460.3" width="7" height="1.6" fill="#40c040"/>
  <rect x="1518.4" y="481.6" width="71.2" height="16.2" rx="1" fill="url(#bayGrey)" stroke="#101010" stroke-width="0.8"/>
  <rect x="1518.4" y="504.2" width="71.2" height="16.2" rx="1" fill="url(#bayGrey)" stroke="#101010" stroke-width="0.8"/>
  <rect x="1532.4" y="537.7" width="43.2" height="17.3" rx="3" fill="#161616" stroke="#2e2e2e" stroke-width="1"/>
  <rect x="1535" y="541.5" width="38" height="2.5" fill="url(#bayStrip)"/><rect x="1535" y="548.5" width="38" height="2.2" fill="url(#bayStrip)"/>
  <rect x="1566" y="541.5" width="5" height="1.8" fill="#40c040"/>
 </g>
 <path d="M1563,430.8 L1595,430.8 L1595,564.7 L1570,564.7 Q1566,500 1563,430.8 Z" fill="#000" opacity="0.25"/>
 <circle cx="1554" cy="583" r="4" fill="#1a2a3a"/><circle cx="1554" cy="583" r="2.4" fill="#5cc8f8"/>
</g>

<g id="bolts">
 <g transform="translate(1.5,2.5)" opacity="0.55" filter="url(#blur1)"><path d="M1183.8,197.5 L1210.3,183.3 L1203,176.4 L1233,161.8 L1218.7,155.3 L1264.4,132.3 L1271.7,135 L1237.2,153.8 L1247.5,159.9 L1216.8,175.7 L1224.9,180.6 Z" fill="#5a3a30"/></g>
 <path d="M1183.8,197.5 L1210.3,183.3 L1203,176.4 L1233,161.8 L1218.7,155.3 L1264.4,132.3 L1271.7,135 L1237.2,153.8 L1247.5,159.9 L1216.8,175.7 L1224.9,180.6 Z" fill="#1c86c6"/>
 <g transform="translate(1.5,2.5)" opacity="0.55" filter="url(#blur1)"><path d="M1176.5,786.5 L1219.1,801.5 L1212.6,807.2 L1242.5,820.3 L1232.9,827.6 L1269.8,843.7 L1264.4,847.1 L1214.5,826 L1226.4,819.5 L1196.9,806.5 L1205.3,801.1 Z" fill="#5a3a30"/></g>
 <path d="M1176.5,786.5 L1219.1,801.5 L1212.6,807.2 L1242.5,820.3 L1232.9,827.6 L1269.8,843.7 L1264.4,847.1 L1214.5,826 L1226.4,819.5 L1196.9,806.5 L1205.3,801.1 Z" fill="#1c86c6"/>
</g>

<g transform="translate(1331,27)">
<g id="monIcon" filter="url(#blur05)">
 <!-- monitor shadow -->
 <rect x="27" y="3" width="117" height="74" fill="#000" opacity="0.35" filter="url(#blur2)"/>
 <!-- stand -->
 <path d="M44,71 L120,71 L122,99 L42,99 Z" fill="#000" opacity="0.18" filter="url(#blur2)"/>
 <rect x="46.4" y="72" width="72.4" height="26" fill="#ececee"/>
 <rect x="46.4" y="72" width="72.4" height="4" fill="#c8c8cc"/>
 <rect x="52" y="88" width="40" height="1.8" fill="#9a9a9a" opacity="0.8"/>
 <rect x="24.6" y="0.2" width="114.8" height="71.4" fill="#0a0a0a"/>
 <rect x="28.3" y="4.2" width="106.7" height="62.4" fill="#f3f3f5"/>
 <rect x="28.3" y="5" width="106.7" height="2.4" fill="#b8c8e0"/>
 <rect x="50" y="30.4" width="53.8" height="2.6" fill="#555"/>
 <rect x="61.4" y="33" width="2.5" height="10" fill="#555"/>
 <rect x="46.4" y="42.3" width="72.4" height="3" fill="#555"/>
 <rect x="68" y="42.5" width="3" height="3" fill="#4a70c0"/><rect x="75" y="42.5" width="3" height="3" fill="#c05050"/>
 <rect x="59" y="24" width="18" height="2" fill="#777"/>
 <g fill="#aaa"><rect x="40" y="61" width="8" height="1.8"/><rect x="52" y="61" width="8" height="1.8"/><rect x="64" y="61" width="8" height="1.8"/><rect x="76" y="61" width="8" height="1.8"/><rect x="110" y="35" width="6" height="10"/></g>
 <!-- tablet -->
 <rect x="0.2" y="49.8" width="46.2" height="61.2" fill="#000" opacity="0.3" filter="url(#blur2)" transform="translate(2,2)"/>
 <rect x="0.2" y="49.8" width="46.2" height="61.2" fill="#0a0a0a"/>
 <rect x="4.6" y="55.4" width="38.1" height="49.9" fill="#fafafa"/>
 <path d="M10,76 L34,76 M12,80 L36,80 M10,84 L34,84" stroke="#666" stroke-width="1.4"/>
 <rect x="12" y="92" width="22" height="1.2" fill="#999"/>
 <!-- phone -->
 <rect x="40.8" y="85.4" width="20" height="30.6" fill="#000" opacity="0.3" filter="url(#blur2)" transform="translate(2,2)"/>
 <rect x="40.8" y="85.4" width="20" height="30.6" rx="1.5" fill="#0a0a0a"/>
 <rect x="43.3" y="89" width="15" height="23.2" fill="#fafafa"/>
 <rect x="47" y="98" width="8" height="4" fill="#bbb"/>
 <!-- woman -->
 <path d="M132.3,96 Q133,89 138,88 L147,87.5 L161,87 Q168,90 170.8,99 Q165,107 151,109.3 Q140,109 134,104 Z" fill="url(#blueShirt)"/>
 <path d="M146,88 L156,88 L152,95 Z" fill="#f4f4f4"/>
 <path d="M137,90 Q146,96 152,95" stroke="#1060b0" stroke-width="1" fill="none"/>
 <ellipse cx="151" cy="79" rx="11.8" ry="12.2" fill="url(#faceG)"/>
 <path d="M133.1,85.4 Q131,70 136,62 Q142,56.5 150,56.8 Q160,57.5 163.8,66 L163.5,72 Q158,67 150,68 Q143,70 140,76 Q139,82 143,88 Q137,89 133.1,85.4 Z" fill="url(#hairG)"/>
 <!-- man -->
 <path d="M84.2,119.7 Q86,104 95,99 Q103,95 112.4,95 L128.4,94.2 Q137,98 141,108.5 Q143,113 142.7,118 Q128,126 110.8,126 Q95,125 84.2,119.7 Z" fill="url(#greenShirt)"/>
 <path d="M115,104 L126,104 L121,112 Z" fill="#fff"/>
 <path d="M100,100 Q110,106 118,110 M131,97 Q128,105 123,111" stroke="#3a8a20" stroke-width="1.4" fill="none"/>
 <ellipse cx="117.5" cy="83.5" rx="13.6" ry="15.5" fill="url(#faceG)"/>
 <ellipse cx="101.5" cy="81" rx="3" ry="4.5" fill="#eca870"/>
 <path d="M95,82 Q93,64 103,57.5 Q112,53.5 121,54 Q130,56 132,66 L131.8,72 Q126,66 116,68 Q108,69.5 105.5,73 L104,86 Q98,88 95,82 Z" fill="url(#hairG)"/>
</g>
</g>
<g transform="translate(1305.7,821.9) scale(0.84)"><g filter="url(#blur05)">
 <!-- monitor shadow -->
 <rect x="27" y="3" width="117" height="74" fill="#000" opacity="0.35" filter="url(#blur2)"/>
 <!-- stand -->
 <path d="M44,71 L120,71 L122,99 L42,99 Z" fill="#000" opacity="0.18" filter="url(#blur2)"/>
 <rect x="46.4" y="72" width="72.4" height="26" fill="#ececee"/>
 <rect x="46.4" y="72" width="72.4" height="4" fill="#c8c8cc"/>
 <rect x="52" y="88" width="40" height="1.8" fill="#9a9a9a" opacity="0.8"/>
 <rect x="24.6" y="0.2" width="114.8" height="71.4" fill="#0a0a0a"/>
 <rect x="28.3" y="4.2" width="106.7" height="62.4" fill="#f3f3f5"/>
 <rect x="28.3" y="5" width="106.7" height="2.4" fill="#b8c8e0"/>
 <rect x="50" y="30.4" width="53.8" height="2.6" fill="#555"/>
 <rect x="61.4" y="33" width="2.5" height="10" fill="#555"/>
 <rect x="46.4" y="42.3" width="72.4" height="3" fill="#555"/>
 <rect x="68" y="42.5" width="3" height="3" fill="#4a70c0"/><rect x="75" y="42.5" width="3" height="3" fill="#c05050"/>
 <rect x="59" y="24" width="18" height="2" fill="#777"/>
 <g fill="#aaa"><rect x="40" y="61" width="8" height="1.8"/><rect x="52" y="61" width="8" height="1.8"/><rect x="64" y="61" width="8" height="1.8"/><rect x="76" y="61" width="8" height="1.8"/><rect x="110" y="35" width="6" height="10"/></g>
 <!-- tablet -->
 <rect x="0.2" y="49.8" width="46.2" height="61.2" fill="#000" opacity="0.3" filter="url(#blur2)" transform="translate(2,2)"/>
 <rect x="0.2" y="49.8" width="46.2" height="61.2" fill="#0a0a0a"/>
 <rect x="4.6" y="55.4" width="38.1" height="49.9" fill="#fafafa"/>
 <path d="M10,76 L34,76 M12,80 L36,80 M10,84 L34,84" stroke="#666" stroke-width="1.4"/>
 <rect x="12" y="92" width="22" height="1.2" fill="#999"/>
 <!-- phone -->
 <rect x="40.8" y="85.4" width="20" height="30.6" fill="#000" opacity="0.3" filter="url(#blur2)" transform="translate(2,2)"/>
 <rect x="40.8" y="85.4" width="20" height="30.6" rx="1.5" fill="#0a0a0a"/>
 <rect x="43.3" y="89" width="15" height="23.2" fill="#fafafa"/>
 <rect x="47" y="98" width="8" height="4" fill="#bbb"/>
 <!-- woman -->
 <path d="M132.3,96 Q133,89 138,88 L147,87.5 L161,87 Q168,90 170.8,99 Q165,107 151,109.3 Q140,109 134,104 Z" fill="url(#blueShirt)"/>
 <path d="M146,88 L156,88 L152,95 Z" fill="#f4f4f4"/>
 <path d="M137,90 Q146,96 152,95" stroke="#1060b0" stroke-width="1" fill="none"/>
 <ellipse cx="151" cy="79" rx="11.8" ry="12.2" fill="url(#faceG)"/>
 <path d="M133.1,85.4 Q131,70 136,62 Q142,56.5 150,56.8 Q160,57.5 163.8,66 L163.5,72 Q158,67 150,68 Q143,70 140,76 Q139,82 143,88 Q137,89 133.1,85.4 Z" fill="url(#hairG)"/>
 <!-- man -->
 <path d="M84.2,119.7 Q86,104 95,99 Q103,95 112.4,95 L128.4,94.2 Q137,98 141,108.5 Q143,113 142.7,118 Q128,126 110.8,126 Q95,125 84.2,119.7 Z" fill="url(#greenShirt)"/>
 <path d="M115,104 L126,104 L121,112 Z" fill="#fff"/>
 <path d="M100,100 Q110,106 118,110 M131,97 Q128,105 123,111" stroke="#3a8a20" stroke-width="1.4" fill="none"/>
 <ellipse cx="117.5" cy="83.5" rx="13.6" ry="15.5" fill="url(#faceG)"/>
 <ellipse cx="101.5" cy="81" rx="3" ry="4.5" fill="#eca870"/>
 <path d="M95,82 Q93,64 103,57.5 Q112,53.5 121,54 Q130,56 132,66 L131.8,72 Q126,66 116,68 Q108,69.5 105.5,73 L104,86 Q98,88 95,82 Z" fill="url(#hairG)"/>
</g></g>
<!-- ===== TEXTS ===== -->
<g fill="#0a0a0a" stroke="#0a0a0a" stroke-width="0.55">
<text x="652.9" y="52.5" font-size="30.5" textLength="99.2" lengthAdjust="spacing">SCADA</text>
<text x="759.3" y="52.5" font-size="30.5" textLength="129.8" lengthAdjust="spacing">Gateway</text>
<text x="897.0" y="52.5" font-size="30.5" textLength="198.0" lengthAdjust="spacing">Management</text>
<text x="1101.0" y="52.5" font-size="30.5" textLength="135.0" lengthAdjust="spacing">Interface</text>
<text x="872" y="362" font-size="34" textLength="68" lengthAdjust="spacing">Web</text>
<text x="962" y="362" font-size="34" textLength="147" lengthAdjust="spacing">Browsing</text>
</g>
<g fill="#111" stroke="#111" stroke-width="0.25" font-size="28.3">
<text x="1635.8" y="436.3" textLength="120.8" lengthAdjust="spacing">-BACnet</text>
<text x="1765.7" y="436.3" textLength="28.4" lengthAdjust="spacing">IP</text>
<text x="1804.2" y="436.3" textLength="95.2" lengthAdjust="spacing">Slave;</text>
<text x="1635.8" y="479" textLength="132.4" lengthAdjust="spacing">-Modbus</text>
<text x="1777.3" y="479" textLength="128.6" lengthAdjust="spacing">RTU/TCP</text>
<text x="1915.6" y="479" textLength="94.8" lengthAdjust="spacing">Slave;</text>
<text x="1635.8" y="521.8" textLength="110.8" lengthAdjust="spacing">-MQTT;</text>
<text x="1635.8" y="563.2" textLength="73.8" lengthAdjust="spacing">-OPC</text>
<text x="1717.7" y="563.2" textLength="42.8" lengthAdjust="spacing">UA</text>
<text x="1792.6" y="563.2" textLength="60.0" lengthAdjust="spacing">OPC</text>
<text x="1861.2" y="563.2" textLength="132.2" lengthAdjust="spacing">XML-DA;</text>
<text x="1635.8" y="606" textLength="148.6" lengthAdjust="spacing">-IEC61850</text>
<text x="1795.2" y="606" textLength="94.8" lengthAdjust="spacing">Server</text>
<text x="1899.0" y="606" textLength="213.4" lengthAdjust="spacing">(Customized);</text>
<text x="1635.8" y="647.4" textLength="112.8" lengthAdjust="spacing">-MySQL</text>
<text x="1778.3" y="647.4" textLength="152.2" lengthAdjust="spacing">SQLServer</text>
<text x="1962.6" y="647.4" textLength="137.4" lengthAdjust="spacing">InfluxDB;</text>
<path stroke="none" d="M1766.0,555.0 Q1767.5,554.5 1770.0,557.5 Q1774.0,561.0 1775.0,563.0 Q1775.0,565.5 1773.0,565.0 Q1770.0,561.0 1766.0,555.8 Z"/><path stroke="none" d="M1752.0,639.0 Q1753.5,638.5 1756.0,641.5 Q1760.0,645.0 1761.0,647.0 Q1761.0,649.5 1759.0,649.0 Q1756.0,645.0 1752.0,639.8 Z"/><path stroke="none" d="M1936.0,639.0 Q1937.5,638.5 1940.0,641.5 Q1944.0,645.0 1945.0,647.0 Q1945.0,649.5 1943.0,649.0 Q1940.0,645.0 1936.0,639.8 Z"/>
</g>
<g fill="#5a5a5a">
<text x="1265.9" y="198.3" font-size="32.3" textLength="119.2" lengthAdjust="spacing">Remote</text>
<text x="1395.6" y="198.3" font-size="32.3" textLength="174.8" lengthAdjust="spacing">Monitoring</text>
<text x="1241.0" y="976.4" font-size="30.5" textLength="79.2" lengthAdjust="spacing">Local</text>
<text x="1329.3" y="976.4" font-size="30.5" textLength="170.0" lengthAdjust="spacing">Monitoring</text>
<text x="1476" y="864.9" font-size="30.5">-</text>
<text x="1500.2" y="864.9" font-size="30.5" textLength="65.8" lengthAdjust="spacing">Web</text>
<text x="1575.5" y="864.9" font-size="30.5" textLength="158.0" lengthAdjust="spacing">Browsing;</text>
</g>
<g fill="#555" stroke="#555" stroke-width="0.75">
<text x="96" y="390" font-size="26" textLength="70.5" lengthAdjust="spacing">HVAC</text>
<text x="369.5" y="389.3" font-size="25.2" textLength="43.5" lengthAdjust="spacing">PLC</text>
<text x="577" y="385.2" font-size="22.7" textLength="179.5" lengthAdjust="spacing">Smart Lighting</text>
</g>
<g fill="#444" stroke="#444" stroke-width="0.25">
<text x="60.5" y="594" font-size="20" textLength="174" lengthAdjust="spacing">&lt;Ethernet Port&gt;</text>
</g>
<g fill="#4a4a4a" stroke="#4a4a4a" stroke-width="0.12" font-size="19.4">
<text x="1575" y="67">-</text>
<text x="1595.4" y="69.2" textLength="442" lengthAdjust="spacing">Wechat, SMS Platform, DingTalk, E-mail,</text>
<text x="1597.1" y="110.3" textLength="355.5" lengthAdjust="spacing">Feishu, WhatsApp, Telegram, Viber,</text>
<text x="1966.5" y="110.3" textLength="42.5" lengthAdjust="spacing">LINE</text>
<text x="1597" y="143.8" textLength="63.5" lengthAdjust="spacing">alarm;</text>
</g>

<!-- ===== NETWORK LINES ===== -->
<rect x="49.5" y="533.6" width="1185" height="5.8" fill="#000"/>
<rect x="947.5" y="317" width="6.2" height="190" fill="#c8302c"/>
<rect x="947.3" y="560" width="6" height="83" fill="#000"/>

<!-- connectors -->
<g fill="#1f7fbf">
<rect x="130" y="478.3" width="3.6" height="42"/><rect x="124.7" y="517.9" width="14.1" height="16"/>
<rect x="394" y="478.8" width="4" height="42"/><rect x="388.8" y="519.5" width="14.4" height="15"/>
<rect x="659" y="486" width="4" height="36"/><rect x="653.6" y="520.3" width="14.4" height="14.5"/>
</g>

<!-- router -->
<g>
<path d="M908.4,522 L908.4,548.5 A42.25,17.5 0 0 0 992.9,548.5 L992.9,522 Z" fill="url(#routerSide)"/>
<ellipse cx="950.6" cy="522" rx="42.25" ry="17.5" fill="#3a7db4"/>
<g fill="#dcecf8"><path d="M925.0,515.9 L940.7,520.4 L940.0,522.9 L948.5,520.5 L942.5,514.0 L941.8,516.5 L926.0,512.1 Z"/><path d="M952.3,522.3 L965.0,516.5 L966.1,518.8 L971.0,511.5 L962.3,510.5 L963.4,512.8 L950.7,518.7 Z"/><path d="M947.7,521.7 L937.0,526.6 L935.9,524.2 L931.0,531.5 L939.7,532.6 L938.7,530.2 L949.3,525.3 Z"/><path d="M977.5,528.1 L961.3,523.6 L962.0,521.1 L953.5,523.5 L959.5,529.9 L960.2,527.4 L976.5,531.9 Z"/></g>
</g>

</svg>
</body></html>
